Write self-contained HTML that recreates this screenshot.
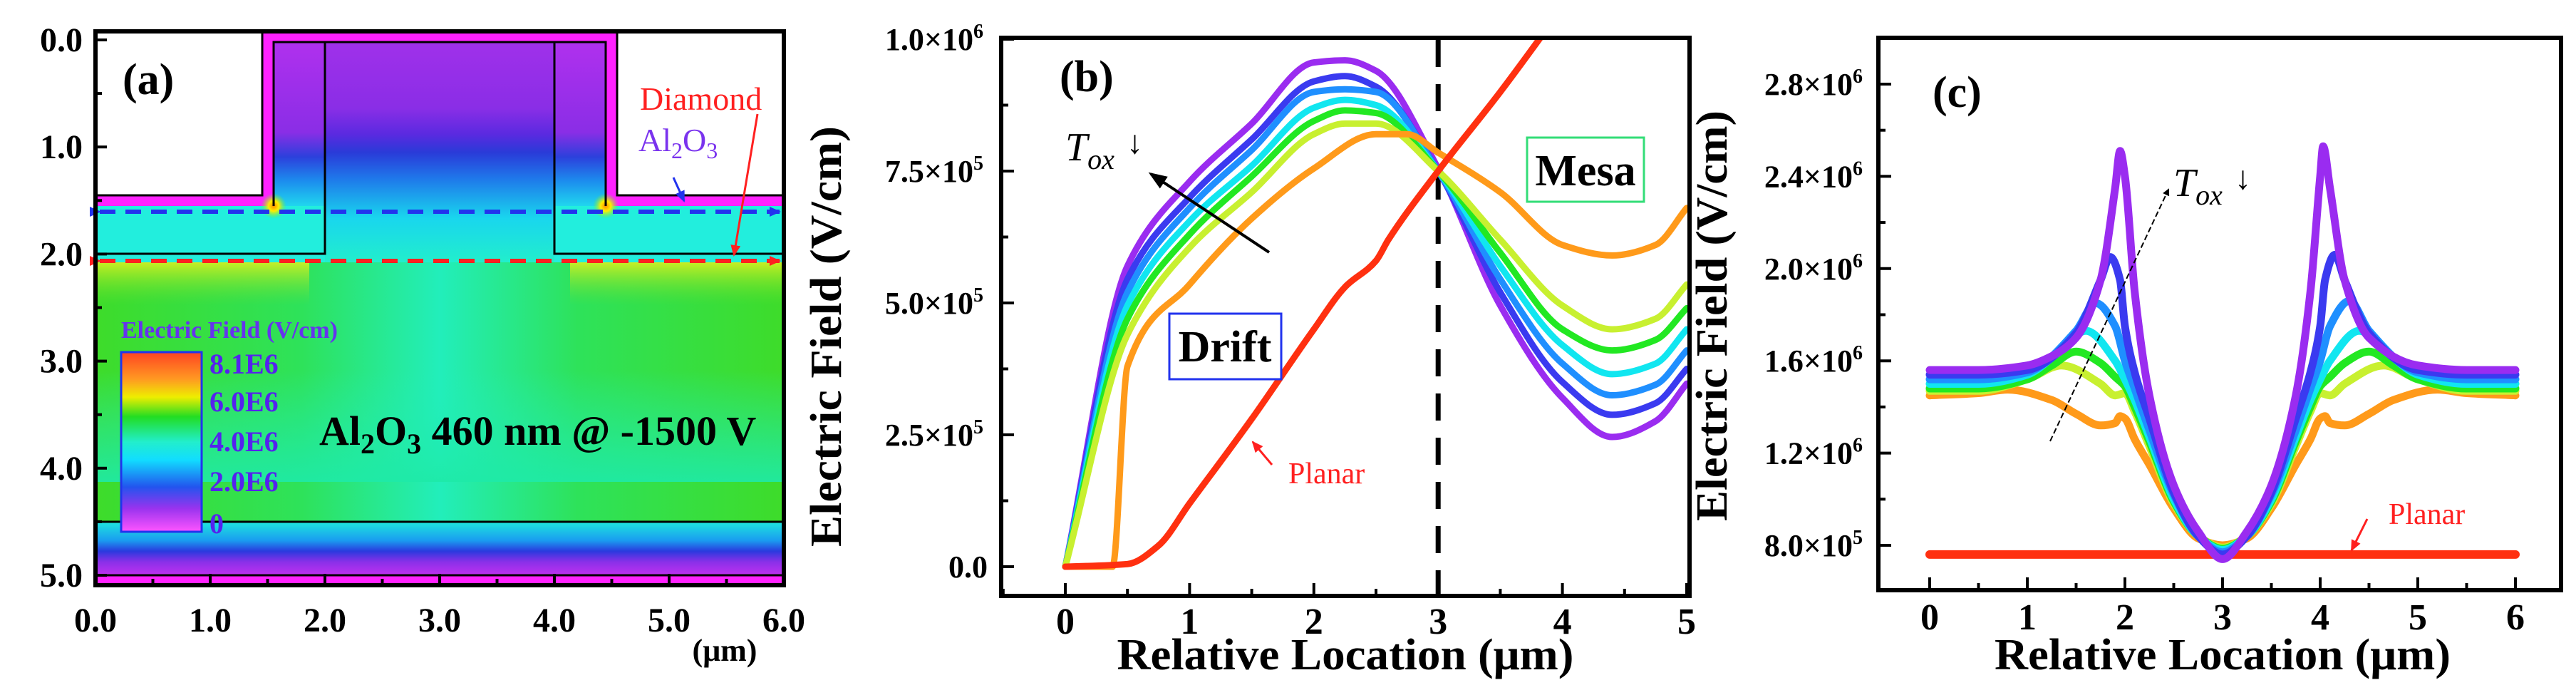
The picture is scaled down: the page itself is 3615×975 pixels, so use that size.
<!DOCTYPE html>
<html><head><meta charset="utf-8"><title>Electric field figure</title>
<style>
html,body{margin:0;padding:0;background:#fff;}
svg{display:block;}
text{font-family:"Liberation Serif",serif;font-weight:bold;}
</style></head>
<body>
<svg id="fig" width="3615" height="975" viewBox="0 0 3615 975" xmlns="http://www.w3.org/2000/svg">
<defs>
<linearGradient id="gMesa" x1="0" y1="0" x2="0" y2="1">
<stop offset="0" stop-color="#a030ea"/><stop offset="0.3" stop-color="#8a2ee6"/><stop offset="0.42" stop-color="#5a2ae0"/><stop offset="0.5" stop-color="#2a3ad8"/><stop offset="0.62" stop-color="#1f78ea"/><stop offset="0.8" stop-color="#19d6ee"/><stop offset="1" stop-color="#22eecc"/></linearGradient>
<linearGradient id="gSideMesa" x1="0" y1="0" x2="0" y2="1">
<stop offset="0" stop-color="#b030ee"/><stop offset="0.55" stop-color="#8a2ee6"/><stop offset="0.7" stop-color="#2c40dc"/><stop offset="0.85" stop-color="#1c8eee"/><stop offset="1" stop-color="#20d6ee"/></linearGradient>
<linearGradient id="gBody" x1="0" y1="0" x2="1" y2="0">
<stop offset="0" stop-color="#3edc2a"/><stop offset="0.3" stop-color="#2ee25a"/><stop offset="0.5" stop-color="#22eebb"/><stop offset="0.7" stop-color="#2ee25a"/><stop offset="1" stop-color="#3edc2a"/></linearGradient>
<linearGradient id="gBodyLow" x1="0" y1="0" x2="0" y2="1">
<stop offset="0" stop-color="#22eebb" stop-opacity="0"/><stop offset="1" stop-color="#1eeaa8" stop-opacity="0.9"/></linearGradient>
<linearGradient id="gBottom" x1="0" y1="0" x2="0" y2="1">
<stop offset="0" stop-color="#1ee6dd"/><stop offset="0.35" stop-color="#1a9cf0"/><stop offset="0.55" stop-color="#2a3ade"/><stop offset="0.75" stop-color="#8a30e8"/><stop offset="1" stop-color="#c030f0"/></linearGradient>
<linearGradient id="gYellow" x1="0" y1="0" x2="0" y2="1">
<stop offset="0" stop-color="#d8f020" stop-opacity="0.9"/><stop offset="1" stop-color="#66e030" stop-opacity="0"/></linearGradient>
<radialGradient id="gHot"><stop offset="0" stop-color="#ff8800"/><stop offset="0.4" stop-color="#ffee00"/><stop offset="1" stop-color="#66ee33" stop-opacity="0"/></radialGradient>
<linearGradient id="gBar" x1="0" y1="0" x2="0" y2="1">
<stop offset="0" stop-color="#ff4422"/><stop offset="0.15" stop-color="#ff9922"/><stop offset="0.25" stop-color="#eeee00"/><stop offset="0.36" stop-color="#22dd22"/><stop offset="0.5" stop-color="#22eecc"/><stop offset="0.6" stop-color="#11ddff"/><stop offset="0.75" stop-color="#2255ee"/><stop offset="0.87" stop-color="#9933ee"/><stop offset="1" stop-color="#ff55ff"/></linearGradient>
<clipPath id="clipB"><rect x="1408" y="56" width="960" height="777"/></clipPath>
<clipPath id="clipC"><rect x="2639" y="56" width="952" height="769"/></clipPath>
<marker id="arrK" markerWidth="10" markerHeight="10" refX="8" refY="5" orient="auto" markerUnits="userSpaceOnUse"><path d="M0,0 L10,5 L0,10 z" fill="#000"/></marker>
<marker id="arrR" markerWidth="16" markerHeight="14" refX="14" refY="7" orient="auto" markerUnits="userSpaceOnUse"><path d="M0,0 L16,7 L0,14 z" fill="#ff2020"/></marker>
<marker id="arrB" markerWidth="16" markerHeight="14" refX="14" refY="7" orient="auto" markerUnits="userSpaceOnUse"><path d="M0,0 L16,7 L0,14 z" fill="#2233ee"/></marker>
<marker id="arrBig" markerWidth="26" markerHeight="20" refX="22" refY="10" orient="auto" markerUnits="userSpaceOnUse"><path d="M0,0 L26,10 L0,20 z" fill="#000"/></marker>
</defs>

<!-- PANEL A -->
<g id="panelA">
<rect x="134" y="368" width="966" height="451" fill="url(#gBody)"/>
<rect x="134" y="520" width="966" height="156" fill="url(#gBodyLow)"/>
<rect x="134" y="368" width="300" height="60" fill="url(#gYellow)"/>
<rect x="800" y="368" width="300" height="60" fill="url(#gYellow)"/>
<rect x="134" y="732" width="966" height="75" fill="url(#gBottom)"/>
<rect x="134" y="807" width="966" height="14" fill="#ff22ff"/>
<rect x="134" y="289" width="966" height="79" fill="#22eedd"/>
<rect x="456" y="59" width="322" height="309" fill="url(#gMesa)"/>
<rect x="384" y="59" width="72" height="230" fill="url(#gSideMesa)"/>
<rect x="778" y="59" width="72" height="230" fill="url(#gSideMesa)"/>
<path d="M134,274 H368 V44 H866 V274 H1100 V289 H850 V59 H384 V289 H134 Z" fill="#ff22ff"/>
<rect x="134" y="44" width="234" height="230" fill="#fff" stroke="#000" stroke-width="3"/>
<rect x="866" y="44" width="234" height="230" fill="#fff" stroke="#000" stroke-width="3"/>
<circle cx="384" cy="289" r="18" fill="url(#gHot)"/>
<circle cx="850" cy="289" r="18" fill="url(#gHot)"/>
<path d="M384,289 V59 H850 V289 M456,59 V356 H134 M778,59 V356 H1100 M134,732 H1100 M134,807 H1100" fill="none" stroke="#000" stroke-width="3"/>
<line x1="140" y1="297" x2="1094" y2="297" stroke="#2233ee" stroke-width="6" stroke-dasharray="22,14" marker-start="url(#arrB)" marker-end="url(#arrB)"/>
<line x1="140" y1="366" x2="1094" y2="366" stroke="#ff2020" stroke-width="6" stroke-dasharray="22,14" marker-start="url(#arrR)" marker-end="url(#arrR)"/>
<rect x="170" y="494" width="113" height="252" fill="url(#gBar)" stroke="#2233ee" stroke-width="3"/>
<text x="170" y="474" font-size="34" fill="#6633ee">Electric Field (V/cm)</text>
<g font-size="40" fill="#5522ee">
<text x="294" y="524">8.1E6</text><text x="294" y="577">6.0E6</text><text x="294" y="633">4.0E6</text><text x="294" y="689">2.0E6</text><text x="294" y="748">0</text></g>
<text x="448" y="624" font-size="58" fill="#000">Al<tspan font-size="40" dy="12">2</tspan><tspan dy="-12">O</tspan><tspan font-size="40" dy="12">3</tspan><tspan dy="-12"> 460 nm @ -1500 V</tspan></text>
<text x="172" y="132" font-size="62" fill="#000">(a)</text>
<text x="898" y="154" font-size="46" fill="#ff2020" style="font-weight:normal">Diamond</text>
<text x="896" y="212" font-size="46" fill="#7a33ee" style="font-weight:normal">Al<tspan font-size="32" dy="10">2</tspan><tspan dy="-10">O</tspan><tspan font-size="32" dy="10">3</tspan></text>
<line x1="945" y1="249" x2="960" y2="282" stroke="#2233ee" stroke-width="3" marker-end="url(#arrB)"/>
<line x1="1063" y1="160" x2="1030" y2="358" stroke="#ff2020" stroke-width="3" marker-end="url(#arrR)"/>
<rect x="134" y="44" width="966" height="777" fill="none" stroke="#000" stroke-width="6"/>
<text x="1017" y="927" font-size="44" text-anchor="middle">(μm)</text>
</g>

<!-- PANEL B -->
<g id="panelB">
<g id="bPlot" clip-path="url(#clipB)"></g>
<rect x="1405" y="53" width="966" height="783" fill="none" stroke="#000" stroke-width="6"/>
<g id="bAxes"></g>
<text x="1487" y="128" font-size="62">(b)</text>
<text x="1495" y="225" font-size="56" font-style="italic" style="font-weight:normal">T<tspan font-size="40" dy="12">ox</tspan></text>
<text x="1581" y="215" font-size="46" style="font-weight:normal">↓</text>
<line x1="1781" y1="354" x2="1615" y2="244" stroke="#000" stroke-width="4" marker-end="url(#arrBig)"/>
<rect x="1641" y="440" width="157" height="92" fill="#fff" stroke="#2233ee" stroke-width="3"/>
<text x="1719" y="507" font-size="62" text-anchor="middle">Drift</text>
<rect x="2143" y="193" width="164" height="90" fill="#fff" stroke="#33dd77" stroke-width="3"/>
<text x="2225" y="260" font-size="62" text-anchor="middle">Mesa</text>
<text x="1808" y="678" font-size="42" fill="#ff2020" style="font-weight:normal">Planar</text>
<line x1="1785" y1="652" x2="1758" y2="620" stroke="#ff2020" stroke-width="3" marker-end="url(#arrR)"/>
<text x="1180" y="472" font-size="62" text-anchor="middle" transform="rotate(-90 1180 472)" textLength="590" lengthAdjust="spacingAndGlyphs">Electric Field (V/cm)</text>
<text x="1888" y="939" font-size="62" text-anchor="middle" textLength="641" lengthAdjust="spacingAndGlyphs">Relative Location (μm)</text>
</g>

<!-- PANEL C -->
<g id="panelC">
<g id="cPlot" clip-path="url(#clipC)"></g>
<rect x="2636" y="53" width="958" height="775" fill="none" stroke="#000" stroke-width="6"/>
<g id="cAxes"></g>
<text x="2712" y="150" font-size="62">(c)</text>
<text x="3050" y="275" font-size="56" font-style="italic" style="font-weight:normal">T<tspan font-size="40" dy="12">ox</tspan></text>
<text x="3136" y="265" font-size="46" style="font-weight:normal">↓</text>
<line x1="2877" y1="619" x2="3043" y2="266" stroke="#000" stroke-width="2" stroke-dasharray="8,4" marker-end="url(#arrK)"/>
<text x="3352" y="735" font-size="42" fill="#ff2020" style="font-weight:normal">Planar</text>
<line x1="3322" y1="728" x2="3300" y2="772" stroke="#ff2020" stroke-width="3" marker-end="url(#arrR)"/>
<text x="2423" y="443" font-size="62" text-anchor="middle" transform="rotate(-90 2423 443)" textLength="576" lengthAdjust="spacingAndGlyphs">Electric Field (V/cm)</text>
<text x="3119" y="939" font-size="62" text-anchor="middle" textLength="640" lengthAdjust="spacingAndGlyphs">Relative Location (μm)</text>
</g>
<g id="aAxes"></g>
</svg>
<script>
// ---- Panel (b) data: x in µm, E in units of 1e5 V/cm ----
const bColors = ["#9a2cf0","#3a3af0","#1f8fff","#11e6f0","#22e822","#c8f030","#ff9a1a"];
const bX = [0,0.5,1,1.5,2,2.25,2.5,3,3.5,4,4.4,4.75,5];
const bPurple = [0,5.7,7.3,8.4,9.56,9.6,9.4,7.55,4.95,3.2,2.46,2.76,3.47];
const bBlue = [0,5.45,7.0,8.1,9.2,9.3,9.1,7.5,5.2,3.5,2.88,3.1,3.75];
const bDodger = [0,5.2,6.8,7.9,9.0,9.05,9.0,7.5,5.45,3.85,3.25,3.45,4.1];
const bCyan = [0,4.95,6.55,7.6,8.7,8.85,8.75,7.5,5.7,4.2,3.65,3.85,4.5];
const bGreen = [0,4.7,6.3,7.4,8.45,8.65,8.6,7.5,5.95,4.5,4.1,4.3,4.9];
const bYGreen = [0,4.4,6.05,7.1,8.2,8.4,8.4,7.5,6.2,4.95,4.5,4.7,5.35];
const bOrangeX = [0,0.38,0.5,1,1.5,2,2.5,2.75,3,3.5,4,4.4,4.75,5];
const bOrange = [0,0,3.8,5.35,6.6,7.55,8.2,8.2,7.85,7.1,6.1,5.9,6.1,6.8];
const bPlanarX = [0,0.5,0.75,1,1.5,2,2.25,2.5,2.6,3,3.5,4];
const bPlanar = [0,0.05,0.4,1.2,2.8,4.5,5.3,5.8,6.2,7.5,9.0,10.6];
const bXTicks = [0,1,2,3,4,5];
const bYTicks = [0,2.5,5,7.5,10];
const bYTickLabels = ["0.0","2.5×10","5.0×10","7.5×10","1.0×10"];
const bYTickExp = ["","5","5","5","6"];

// ---- Panel (c) data: x in µm, E in units of 1e5 V/cm ----
const cPurpleX = [0,0.5,1,1.25,1.5,1.75,1.9,1.95,2.0,2.1,2.25,2.5,2.75,3,3.25,3.5,3.75,3.9,4.0,4.03,4.1,4.25,4.5,5,5.5,6];
const cPurple = [15.6,15.6,15.8,16.2,17.0,19.5,23.5,25.1,24,19,14.5,10.6,8.6,7.4,8.6,10.6,14.5,19,24,25.3,23.5,19.5,17.0,15.8,15.6,15.6];
const cBlueX = [0,0.5,1,1.5,1.75,1.85,1.95,2.0,2.1,2.25,2.5,2.75,3,3.25,3.5,3.75,3.9,4.0,4.05,4.15,4.25,4.5,5,5.5,6];
const cBlue = [15.4,15.4,15.6,17.2,19.5,20.5,19.5,17.5,15.5,13.5,10.3,8.4,7.6,8.4,10.3,13.5,15.5,17.5,19.5,20.6,19.5,17.2,15.6,15.4,15.4];
const cDodgerX = [0,0.5,1,1.5,1.7,1.9,2.0,2.1,2.25,2.5,2.75,3,3.25,3.5,3.75,3.9,4.0,4.1,4.3,4.5,5,5.5,6];
const cDodger = [15.2,15.2,15.5,17.3,18.5,17.5,16.0,14.8,13.0,10.2,8.4,7.7,8.4,10.2,13.0,14.8,16.0,17.5,18.6,17.3,15.5,15.2,15.2];
const cCyanX = [0,0.5,1,1.3,1.6,1.9,2.0,2.1,2.25,2.5,2.75,3,3.25,3.5,3.75,3.9,4.0,4.1,4.4,4.7,5,5.5,6];
const cCyan = [15.0,15.0,15.4,16.3,17.3,16.0,15.2,14.3,12.7,10.0,8.4,7.8,8.4,10.0,12.7,14.3,15.2,16.0,17.3,16.3,15.4,15.0,15.0];
const cGreenX = [0,0.5,1,1.25,1.5,1.75,1.9,2.0,2.1,2.25,2.5,2.75,3,3.25,3.5,3.75,3.9,4.0,4.1,4.25,4.5,4.75,5,5.5,6];
const cGreen = [14.8,14.8,15.2,15.8,16.4,15.9,15.3,14.9,14.0,12.5,9.9,8.4,7.85,8.4,9.9,12.5,14.0,14.9,15.3,15.9,16.4,15.8,15.2,14.8,14.8];
const cYGreenX = [0,0.5,1,1.35,1.75,1.9,2.0,2.1,2.25,2.5,2.75,3,3.25,3.5,3.75,3.9,4.0,4.1,4.25,4.65,5,5.5,6];
const cYGreen = [14.7,14.7,15.2,15.8,15.0,14.5,14.6,13.8,12.3,9.8,8.4,7.9,8.4,9.8,12.3,13.8,14.6,14.5,15.0,15.8,15.2,14.7,14.7];
const cOrangeX = [0,0.5,0.8,1.25,1.5,1.75,1.9,1.95,2.0,2.1,2.25,2.5,2.75,3,3.25,3.5,3.75,3.9,4.0,4.05,4.1,4.25,4.5,4.75,5.2,5.5,6];
const cOrange = [14.5,14.6,14.75,14.3,13.7,13.2,13.3,13.6,13.5,12.6,11.5,9.6,8.3,8.0,8.3,9.6,11.5,12.6,13.5,13.6,13.3,13.2,13.7,14.3,14.75,14.6,14.5];
const cPlanarX = [0,6];
const cPlanar = [7.6,7.6];
const cXTicks = [0,1,2,3,4,5,6];
const cYTicks = [8,12,16,20,24,28];
const cYTickLabels = ["8.0×10","1.2×10","1.6×10","2.0×10","2.4×10","2.8×10"];
const cYTickExp = ["5","6","6","6","6","6"];

// ---- Panel (a) axis ticks ----
const aXTicks = [0,1,2,3,4,5,6];
const aXTickLabels = ["0.0","1.0","2.0","3.0","4.0","5.0","6.0"];
const aYTicks = [0,1,2,3,4,5];
const aYTickLabels = ["0.0","1.0","2.0","3.0","4.0","5.0"];

const NS = "http://www.w3.org/2000/svg";
const bx = v => 1495 + 174.4 * v;
const by = v => 795 - 74 * v;
const cx = v => 2708 + 137 * v;
const cy = v => 765 - (v - 8) * 32.35;
const ax = v => 134 + 161 * v;
const ay = v => 56 + 150.2 * v;

function mk(tag, attrs, parent) {
  const el = document.createElementNS(NS, tag);
  for (const k in attrs) el.setAttribute(k, attrs[k]);
  parent.appendChild(el);
  return el;
}
// monotone cubic path through screen points (rendering only)
function smoothPath(P) {
  const n = P.length;
  if (n < 3) return P.map((p, i) => (i ? "L" : "M") + p[0].toFixed(1) + "," + p[1].toFixed(1)).join(" ");
  const d = [], m = new Array(n);
  for (let i = 0; i < n - 1; i++) d.push((P[i + 1][1] - P[i][1]) / (P[i + 1][0] - P[i][0]));
  m[0] = d[0]; m[n - 1] = d[n - 2];
  for (let i = 1; i < n - 1; i++) {
    if (d[i - 1] * d[i] <= 0) m[i] = 0;
    else { const h0 = P[i][0] - P[i - 1][0], h1 = P[i + 1][0] - P[i][0];
      m[i] = 3 * (h0 + h1) / ((2 * h1 + h0) / d[i - 1] + (h1 + 2 * h0) / d[i]); }
  }
  let s = "M" + P[0][0].toFixed(1) + "," + P[0][1].toFixed(1);
  for (let i = 0; i < n - 1; i++) {
    const h = (P[i + 1][0] - P[i][0]) / 3;
    s += " C" + (P[i][0] + h).toFixed(1) + "," + (P[i][1] + m[i] * h).toFixed(1) + " " +
      (P[i + 1][0] - h).toFixed(1) + "," + (P[i + 1][1] - m[i + 1] * h).toFixed(1) + " " +
      P[i + 1][0].toFixed(1) + "," + P[i + 1][1].toFixed(1);
  }
  return s;
}
function series(parent, xs, ys, fx, fy, color, w, name) {
  const pts = xs.map((x, i) => [fx(x), fy(ys[i])]);
  const el = mk("path", {d: smoothPath(pts), fill: "none", stroke: color, "stroke-width": w, "stroke-linejoin": "round", "stroke-linecap": "round"}, parent);
  
  
  return el;
}
function tick(parent, x1, y1, x2, y2, name) {
  const el = mk("line", {x1: x1, y1: y1, x2: x2, y2: y2, stroke: "#000", "stroke-width": 4}, parent);
  
  
}
function label(parent, x, y, txt, size, anchor, name) {
  const el = mk("text", {x: x, y: y, "font-size": size, "text-anchor": anchor}, parent);
  el.textContent = txt;
  
  
  return el;
}

// Panel b
const bPlot = document.getElementById("bPlot");
const bAxes = document.getElementById("bAxes");
const vdash = mk("line", {x1: bx(3), y1: 56, x2: bx(3), y2: 833, stroke: "#000", "stroke-width": 7, "stroke-dasharray": "38,24"}, bPlot);


const bSeries = [bPurple, bBlue, bDodger, bCyan, bGreen, bYGreen];
const bNames = ["tox-1","tox-2","tox-3","tox-4","tox-5","tox-6"];
bSeries.forEach((s, i) => series(bPlot, bX, s, bx, by, bColors[i], 9, "series-b-" + bNames[i]));
series(bPlot, bOrangeX, bOrange, bx, by, bColors[6], 9, "series-b-tox-7");
series(bPlot, bPlanarX, bPlanar, bx, by, "#ff3010", 9, "series-b-planar");
bXTicks.forEach(v => {
  tick(bAxes, bx(v), 836, bx(v), 818, "x-tick-b");
  label(bAxes, bx(v), 889, String(v), 52, "middle", "x-tick-label-b");
});
[-0.5,0.5,1.5,2.5,3.5,4.5].forEach(v => tick(bAxes, bx(v), 836, bx(v), 826, "x-minor-tick-b"));
bYTicks.forEach((v, i) => {
  tick(bAxes, 1405, by(v), 1423, by(v), "y-tick-b");
  label(bAxes, bYTickExp[i] ? 1366 : 1386, by(v) + 15, bYTickLabels[i], 44, "end", "y-tick-label-b");
  if (bYTickExp[i]) label(bAxes, 1366, by(v) - 2, bYTickExp[i], 28, "start", "y-tick-exponent-b");
});
[1.25,3.75,6.25,8.75].forEach(v => tick(bAxes, 1405, by(v), 1415, by(v), "y-minor-tick-b"));

// Panel c
const cPlot = document.getElementById("cPlot");
const cAxes = document.getElementById("cAxes");
series(cPlot, cPlanarX, cPlanar, cx, cy, "#ff3010", 12, "series-c-planar");
series(cPlot, cOrangeX, cOrange, cx, cy, bColors[6], 11, "series-c-tox-7");
series(cPlot, cYGreenX, cYGreen, cx, cy, bColors[5], 11, "series-c-tox-6");
series(cPlot, cGreenX, cGreen, cx, cy, bColors[4], 11, "series-c-tox-5");
series(cPlot, cCyanX, cCyan, cx, cy, bColors[3], 11, "series-c-tox-4");
series(cPlot, cDodgerX, cDodger, cx, cy, bColors[2], 11, "series-c-tox-3");
series(cPlot, cBlueX, cBlue, cx, cy, bColors[1], 11, "series-c-tox-2");
series(cPlot, cPurpleX, cPurple, cx, cy, bColors[0], 11, "series-c-tox-1");
cXTicks.forEach(v => {
  tick(cAxes, cx(v), 828, cx(v), 810, "x-tick-c");
  label(cAxes, cx(v), 883, String(v), 52, "middle", "x-tick-label-c");
});
[0.5,1.5,2.5,3.5,4.5,5.5].forEach(v => tick(cAxes, cx(v), 828, cx(v), 818, "x-minor-tick-c"));
cYTicks.forEach((v, i) => {
  tick(cAxes, 2636, cy(v), 2654, cy(v), "y-tick-c");
  label(cAxes, 2600, cy(v) + 15, cYTickLabels[i], 44, "end", "y-tick-label-c");
  label(cAxes, 2600, cy(v) - 2, cYTickExp[i], 28, "start", "y-tick-exponent-c");
});
[10,14,18,22,26].forEach(v => tick(cAxes, 2636, cy(v), 2646, cy(v), "y-minor-tick-c"));

// Panel a axes
const aAxes = document.getElementById("aAxes");
aXTicks.forEach((v, i) => {
  tick(aAxes, ax(v), 821, ax(v), 805, "x-tick-a");
  label(aAxes, ax(v), 886, aXTickLabels[i], 48, "middle", "x-tick-label-a");
});
[0.5,1.5,2.5,3.5,4.5,5.5].forEach(v => tick(aAxes, ax(v), 821, ax(v), 812, "x-minor-tick-a"));
aYTicks.forEach((v, i) => {
  tick(aAxes, 134, ay(v), 150, ay(v), "y-tick-a");
  label(aAxes, 116, ay(v) + 16, aYTickLabels[i], 48, "end", "y-tick-label-a");
});
[0.5,1.5,2.5,3.5,4.5].forEach(v => tick(aAxes, 134, ay(v), 143, ay(v), "y-minor-tick-a"));
</script>
</body></html>
